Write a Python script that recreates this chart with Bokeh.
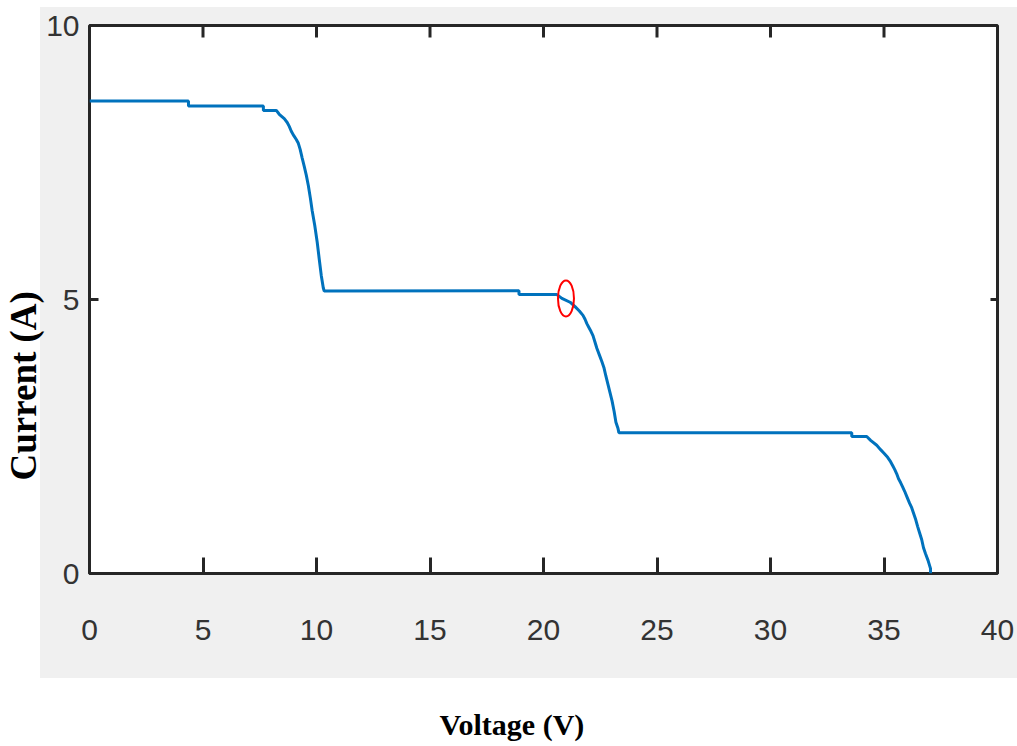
import math
from bokeh.plotting import figure
from bokeh.layouts import column
from bokeh.models import FixedTicker, Range1d, Title
from bokeh.core.properties import value
from bokeh.embed import file_html
from bokeh.resources import INLINE

# I-V curve
voltage = [0.0, 4.36, 4.36, 7.66, 7.66, 8.23, 8.36, 8.58, 8.71, 8.80, 8.89, 9.00, 9.11, 9.20,
           9.28, 9.37, 9.46, 9.55, 9.64, 9.73, 9.81, 9.92, 10.03, 10.12, 10.21, 10.30, 10.34,
           18.92, 18.92, 20.59, 20.81, 21.17, 21.39, 21.58, 21.74, 21.83, 21.91, 22.00, 22.09,
           22.18, 22.27, 22.35, 22.46, 22.57, 22.66, 22.75, 22.84, 22.93, 23.02, 23.11, 23.19,
           23.28, 23.32,
           33.58, 33.58, 34.24, 34.41, 34.68, 34.85, 35.01, 35.16, 35.29, 35.38, 35.47, 35.56,
           35.64, 35.73, 35.82, 35.91, 36.02, 36.13, 36.22, 36.31, 36.40, 36.48, 36.57, 36.66,
           36.74, 36.83, 36.94, 37.05, 37.05]
current = [8.62, 8.62, 8.53, 8.53, 8.45, 8.45, 8.38, 8.30, 8.23, 8.16, 8.07, 7.99, 7.92, 7.85,
           7.74, 7.58, 7.43, 7.27, 7.08, 6.85, 6.62, 6.36, 6.05, 5.74, 5.44, 5.21, 5.155,
           5.16, 5.09, 5.09, 5.02, 4.95, 4.87, 4.79, 4.71, 4.64, 4.56, 4.49, 4.42,
           4.34, 4.22, 4.11, 3.99, 3.87, 3.76, 3.60, 3.45, 3.30, 3.15, 2.96, 2.76,
           2.65, 2.57,
           2.57, 2.50, 2.50, 2.43, 2.34, 2.26, 2.19, 2.12, 2.04, 1.97, 1.90, 1.82,
           1.73, 1.66, 1.58, 1.50, 1.39, 1.28, 1.20, 1.09, 0.98, 0.86, 0.74, 0.62,
           0.47, 0.36, 0.24, 0.09, 0.0]

# marked operating point
mpp_v = [20.99]
mpp_i = [5.02]

x_ticks = [0, 5, 10, 15, 20, 25, 30, 35, 40]
y_ticks = [0, 5, 10]
x_label = "Voltage (V)"
y_label = "Current (A)"

AX = "#262626"
XMIN, XMAX, YMIN, YMAX = 0, 40, 0, 10

p = figure(width=1017, height=678, output_backend="svg", toolbar_location=None,
           x_range=Range1d(XMIN, XMAX), y_range=Range1d(YMIN, YMAX),
           min_border_left=88, min_border_right=20, min_border_top=25, min_border_bottom=105,
           border_fill_color=None, background_fill_color="white",
           outline_line_color=AX, outline_line_width=3,
           styles={"background": "linear-gradient(#f0f0f0, #f0f0f0) 40px 7px / 977px 671px no-repeat, #ffffff"})

p.xgrid.visible = False
p.ygrid.visible = False

def style_axis(ax, ticks, tick_in, standoff):
    ax.ticker = FixedTicker(ticks=ticks)
    ax.axis_line_color = None
    ax.major_tick_in = tick_in
    ax.major_tick_out = 0
    ax.major_tick_line_color = AX
    ax.major_tick_line_width = 3
    ax.minor_tick_line_color = None
    ax.major_label_standoff = standoff
    ax.major_label_text_font = "Liberation Sans"
    ax.major_label_text_font_size = "30px"
    ax.major_label_text_color = "#333333"

style_axis(p.xaxis[0], x_ticks, 16, 46)
style_axis(p.yaxis[0], y_ticks, 9, 10)

# mirrored inward ticks on the top and right edges of the box
p.scatter(x_ticks, [YMAX] * len(x_ticks), marker="dash", size=24, angle=math.pi / 2,
          line_color=AX, line_width=3)
p.scatter([XMAX] * len(y_ticks), y_ticks, marker="dash", size=14,
          line_color=AX, line_width=3)

p.line(voltage, current, line_color="#0072BD", line_width=3)
p.ellipse(mpp_v, mpp_i, width=16, height=36, width_units="screen", height_units="screen",
          fill_color=None, line_color="#ff0000", line_width=2)

# y-axis title, shifted down along the axis as in the reference
p.add_layout(Title(text=y_label, align="left", offset=93, standoff=0,
                   text_font="Liberation Serif", text_font_style="bold",
                   text_font_size="37px", text_color="black"), "left")

# strip below the grey panel holding the x-axis title (frame aligned with the chart above)
p2 = figure(width=1017, height=68, output_backend="svg", toolbar_location=None,
            x_range=Range1d(XMIN, XMAX), y_range=Range1d(0, 68),
            x_axis_type=None, y_axis_type=None, min_border=0,
            outline_line_color=None, border_fill_color="white", background_fill_color="white")
p2.xgrid.visible = False
p2.ygrid.visible = False
p2.text(x=[18.61], y=[22], text=[x_label], text_align="center", text_baseline="middle",
        text_font=value("Liberation Serif"), text_font_style="bold", text_font_size="30px",
        text_color="black")

layout = column(p, p2, spacing=0)
open("out.html", "w").write(file_html(layout, INLINE))
